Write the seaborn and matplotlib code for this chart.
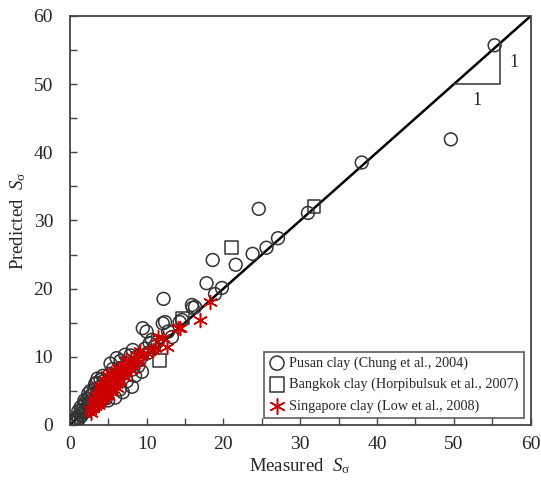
import matplotlib
matplotlib.use("Agg")
import matplotlib.pyplot as plt
import seaborn as sns
import pandas as pd
from matplotlib.ticker import MultipleLocator

sns.set_style("white")
plt.rcParams['font.family'] = ['Liberation Serif', 'DejaVu Serif']
plt.rcParams['mathtext.fontset'] = 'custom'
plt.rcParams['mathtext.rm'] = 'Liberation Serif'
plt.rcParams['mathtext.it'] = 'Liberation Serif:italic'

pusan_x = [0.5, 0.7, 0.9, 1.0, 1.2, 1.3, 1.5, 1.5, 1.7, 1.8, 2.0, 2.0, 2.2, 2.3, 2.5, 2.6, 2.8, 3.0, 3.0,
           3.2, 3.4, 3.5, 3.7, 3.9, 4.0, 4.2, 4.3, 4.5, 4.8, 5.0, 5.2, 5.4, 5.6, 5.9, 6.0, 6.1, 6.3, 6.5,
           6.9, 7.0, 7.2, 7.4, 7.6, 8.1, 8.1, 8.2, 8.5, 8.8, 9.1, 9.4, 9.5, 10.0, 10.4, 10.7, 10.2, 11.0,
           12.1, 12.8, 13.3, 14.3, 14.6, 12.2, 12.4, 15.9, 16.3, 16.0, 17.8, 18.6, 18.9, 19.8, 21.6,
           23.8, 24.6, 25.6, 27.1, 31.0, 38.0, 49.6, 55.3,
           1.1, 1.4, 1.9, 2.4, 2.7, 3.3, 3.6, 4.4, 4.7, 5.3, 5.8, 6.6, 7.9, 8.9, 9.8, 11.4]
pusan_y = [0.4, 0.8, 0.6, 1.2, 0.9, 1.6, 1.3, 2.2, 1.8, 2.8, 2.3, 3.3, 2.0, 3.8, 3.0, 4.2, 3.5, 4.6, 2.6,
           5.2, 4.0, 6.2, 5.0, 3.4, 6.6, 5.6, 7.2, 4.6, 6.2, 3.6, 7.5, 5.3, 8.2, 4.0, 6.6, 9.8, 7.6, 5.2,
           4.8, 8.5, 10.3, 6.4, 9.0, 5.6, 8.1, 11.0, 7.2, 10.0, 9.5, 7.8, 14.2, 13.7, 12.0, 12.5, 10.6, 11.5,
           14.9, 13.7, 12.9, 15.1, 15.4, 18.5, 15.1, 17.6, 17.3, 17.2, 20.8, 24.2, 19.2, 20.1, 23.5,
           25.1, 31.7, 26.0, 27.4, 31.1, 38.5, 41.9, 55.7,
           2.0, 2.6, 3.6, 4.6, 5.0, 6.0, 6.8, 6.4, 3.9, 9.0, 7.0, 9.4, 10.2, 8.6, 11.2, 12.2]

bangkok_x = [2.5, 4.0, 11.7, 14.7, 21.0, 31.8]
bangkok_y = [3.0, 4.5, 9.4, 15.7, 26.0, 32.1]

singapore_x = [2.8, 3.0, 3.2, 3.3, 3.5, 3.6, 3.8, 3.9, 4.0, 4.1, 4.2, 4.3, 4.4, 4.5, 4.6, 4.7, 4.8, 4.8,
               4.9, 5.0, 5.1, 5.2, 5.3, 5.4, 5.5, 5.6, 5.7, 5.9, 6.0, 6.1, 6.2, 6.4, 6.5, 6.6, 6.9, 7.0,
               7.2, 7.5, 7.8, 8.0, 8.2, 8.7, 9.0, 9.5, 10.0, 10.8, 11.1, 11.5, 12.1, 12.6, 14.1, 14.3,
               16.9, 18.2,
               2.6, 3.4, 3.7, 4.1, 4.6, 5.0, 5.4, 5.8, 6.3, 6.8, 7.3, 7.7, 8.4, 9.2, 3.1, 3.9]
singapore_y = [1.8, 2.5, 3.2, 2.8, 3.6, 4.2, 3.2, 4.8, 3.8, 4.4, 5.2, 3.6, 4.8, 5.6, 4.2, 6.0, 5.0, 7.3,
               4.5, 5.8, 6.4, 5.2, 4.8, 6.8, 5.8, 6.2, 7.2, 7.8, 6.0, 5.4, 6.8, 7.4, 6.4, 8.0, 8.8, 7.0,
               7.8, 8.4, 9.2, 8.0, 8.8, 10.3, 9.2, 10.2, 10.5, 11.0, 11.3, 12.9, 12.8, 11.4, 14.2, 14.2,
               15.4, 18.0,
               2.2, 4.4, 3.0, 5.8, 6.6, 4.2, 7.6, 6.8, 8.4, 7.4, 9.6, 8.6, 9.8, 10.8, 3.8, 5.6]

labels = ["Pusan clay (Chung et al., 2004)",
          "Bangkok clay (Horpibulsuk et al., 2007)",
          "Singapore clay (Low et al., 2008)"]

df_p = pd.DataFrame({"x": pusan_x, "y": pusan_y})
df_b = pd.DataFrame({"x": bangkok_x, "y": bangkok_y})
df_s = pd.DataFrame({"x": singapore_x, "y": singapore_y})
line_df = pd.DataFrame({"x": [0, 60], "y": [0, 60]})

fig = plt.figure(figsize=(5.41, 4.84), dpi=100)
ax = fig.add_axes([0.129, 0.122, 0.852, 0.845])

sns.lineplot(data=line_df, x="x", y="y", ax=ax, color="black", linewidth=1.8, zorder=1)

edge = "#333333"
sns.scatterplot(data=df_p, x="x", y="y", ax=ax, marker="o", s=85,
                facecolor="none", edgecolor=edge, linewidth=1.1, label=labels[0], zorder=3)
sns.scatterplot(data=df_b, x="x", y="y", ax=ax, marker="s", s=85,
                facecolor="none", edgecolor=edge, linewidth=1.1, label=labels[1], zorder=3)
sns.scatterplot(data=df_s, x="x", y="y", ax=ax, marker=(6, 2, 0), s=100,
                color="#cc0000", linewidth=1.1, label=labels[2], zorder=4)

# slope triangle
ax.plot([50, 56, 56], [50, 50, 56], color="#444444", linewidth=1.2)
ax.text(53, 48.8, "1", ha="center", va="top", fontsize=13)
ax.text(57.2, 53.2, "1", ha="left", va="center", fontsize=13)

ax.set_xlim(0, 60)
ax.set_ylim(0, 60)
ax.xaxis.set_major_locator(MultipleLocator(10))
ax.yaxis.set_major_locator(MultipleLocator(10))
ax.xaxis.set_minor_locator(MultipleLocator(5))
ax.yaxis.set_minor_locator(MultipleLocator(5))
ax.tick_params(which="both", direction="in", length=5, width=1, color="#444444",
               top=False, right=False, bottom=True, left=True)
ax.tick_params(axis="x", which="major", labelsize=14, pad=8)
ax.tick_params(axis="y", which="major", labelsize=14, pad=12)
for sp in ax.spines.values():
    sp.set_color("#444444")
    sp.set_linewidth(1.3)

ax.set_xlabel(r"Measured  $\mathit{S}_{\mathrm{σ}}$", fontsize=13.5, labelpad=2)
ax.set_ylabel(r"Predicted  $\mathit{S}_{\mathrm{σ}}$", fontsize=13.5, labelpad=4)

leg = ax.legend(loc="lower right", fontsize=10.3, frameon=True, fancybox=False,
                edgecolor="#333333", borderpad=0.35, labelspacing=0.55, handletextpad=0.3,
                handlelength=1.1, borderaxespad=0.5, markerscale=1.1, bbox_to_anchor=(1.0, 0.0))
leg.get_frame().set_linewidth(1.2)

fig.savefig("out.png", dpi=100)
